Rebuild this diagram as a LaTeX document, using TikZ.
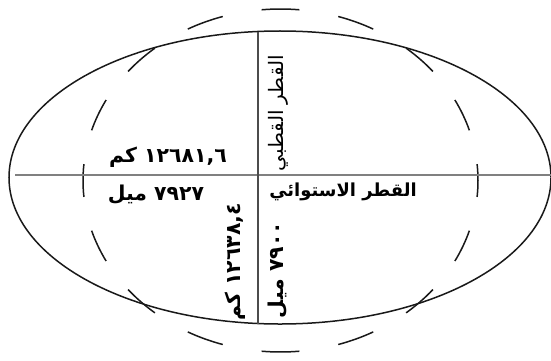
\documentclass[tikz,border=0pt]{standalone}
\usepackage{fontspec}
\newfontfamily\arabicfont[Script=Arabic]{DejaVu Sans}
\TeXXeTstate=1

\begin{document}
\begin{tikzpicture}[x=1bp,y=1bp,
  lbl/.style={font=\arabicfont\bfseries\fontsize{20.5}{22}\selectfont,inner sep=0pt},
  vlbl/.style={lbl,rotate=90}]
\useasboundingbox (0,0) rectangle (551,360);
\coordinate (o) at (280,182.5);
\coordinate (c) at (280.5,179.5);
\coordinate (w) at (15,185);
\coordinate (e) at (551,185);
\coordinate (n) at (258,328.5);
\coordinate (s) at (258,36.5);
% earth and sphere
\draw[line width=1.5bp,black!90](o)ellipse[x radius=271bp,y radius=146.5bp];
\foreach \a in {0,22.5,...,337.5}
  \draw[line width=1.5bp,black!90]([shift={({\a-5.5}:197.5bp and 171.5bp)}]c)
    arc[start angle=\a-5.5,end angle=\a+5.5,x radius=197.5bp,y radius=171.5bp];
% diameters
\draw[gray,line width=1.2bp](w)--(e);
\draw[black!70,line width=1.2bp](n)--(s);
\node[lbl](eqkm) at (168,203){\beginR\beginL١٢٦٨١,٦\endL{} كم\endR};
\node[lbl](eqmi) at (156,165){\beginR\beginL٧٩٢٧\endL{} ميل\endR};
\node[lbl,font=\arabicfont\bfseries\fontsize{18}{20}\selectfont](eqname) at (343,168){\beginR القطر الاستوائي\endR};
\node[vlbl,font=\arabicfont\fontsize{20}{22}\selectfont](polname) at (278,247){\beginR القطر القطبي\endR};
\node[vlbl](polkm) at (235,98){\beginR\beginL١٢٦٣٨,٤\endL{} كم\endR};
\node[vlbl](polmi) at (278,90){\beginR\beginL٧٩٠٠\endL{} ميل\endR};
\end{tikzpicture}
\end{document}
